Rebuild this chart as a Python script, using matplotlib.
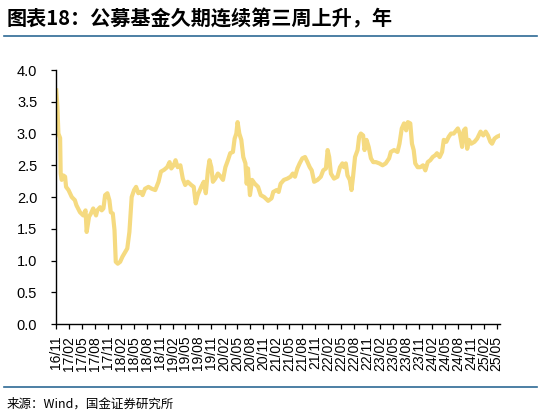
import matplotlib
matplotlib.use("Agg")
import matplotlib.pyplot as plt
import matplotlib.dates as mdates
import pandas as pd

plt.rcParams.update({"font.family": ["Liberation Sans", "Noto Sans CJK SC", "DejaVu Sans"],
                     "axes.unicode_minus": False})

TITLE = "图表18：公募基金久期连续第三周上升，年"
SOURCE = "来源：Wind，国金证券研究所"
LINE_COLOR = "#F5DA80"

# 久期（年）
dates = [
    "2016-11-03", "2016-11-11", "2016-11-18", "2016-11-30", "2016-12-04", "2016-12-11",
    "2016-12-23", "2017-01-04", "2017-01-11", "2017-01-28", "2017-02-20", "2017-03-14",
    "2017-03-25", "2017-04-19", "2017-05-12", "2017-05-28", "2017-06-05", "2017-06-22",
    "2017-07-05", "2017-07-21", "2017-08-10", "2017-08-19", "2017-09-08", "2017-09-19",
    "2017-10-01", "2017-10-13", "2017-10-29", "2017-11-12", "2017-11-22", "2017-12-06",
    "2017-12-18", "2017-12-27", "2018-01-10", "2018-01-27", "2018-02-12", "2018-03-02",
    "2018-03-18", "2018-04-02", "2018-04-18", "2018-05-05", "2018-05-19", "2018-06-04",
    "2018-06-21", "2018-07-04", "2018-07-21", "2018-08-14", "2018-09-07", "2018-10-01",
    "2018-10-24", "2018-11-10", "2018-12-03", "2018-12-24", "2019-01-10", "2019-01-22",
    "2019-02-08", "2019-02-21", "2019-03-08", "2019-03-27", "2019-04-13", "2019-04-30",
    "2019-05-18", "2019-06-11", "2019-06-29", "2019-07-13", "2019-07-27", "2019-08-21",
    "2019-09-08", "2019-09-22", "2019-10-07", "2019-10-18", "2019-10-31", "2019-11-11",
    "2019-11-28", "2019-12-16", "2020-01-05", "2020-01-21", "2020-02-07", "2020-02-25",
    "2020-03-12", "2020-03-31", "2020-04-12", "2020-04-24", "2020-05-03", "2020-05-15",
    "2020-05-29", "2020-06-12", "2020-06-27", "2020-07-06", "2020-07-15", "2020-07-29",
    "2020-08-13", "2020-09-01", "2020-09-24", "2020-10-13", "2020-11-06", "2020-12-04",
    "2020-12-28", "2021-01-09", "2021-02-02", "2021-02-16", "2021-03-02", "2021-03-25",
    "2021-04-18", "2021-05-11", "2021-05-27", "2021-06-11", "2021-06-28", "2021-07-14",
    "2021-08-02", "2021-08-21", "2021-09-07", "2021-09-23", "2021-10-07", "2021-10-24",
    "2021-11-17", "2021-12-10", "2021-12-27", "2022-01-15", "2022-01-27", "2022-02-07",
    "2022-02-19", "2022-03-13", "2022-04-06", "2022-04-24", "2022-05-11", "2022-05-22",
    "2022-06-04", "2022-06-16", "2022-07-02", "2022-07-14", "2022-07-25", "2022-08-08",
    "2022-08-26", "2022-09-06", "2022-09-18", "2022-10-04", "2022-10-14", "2022-10-28",
    "2022-11-12", "2022-11-28", "2022-12-14", "2023-01-02", "2023-01-26", "2023-02-18",
    "2023-03-12", "2023-04-05", "2023-04-17", "2023-05-10", "2023-06-03", "2023-06-17",
    "2023-07-03", "2023-07-19", "2023-08-03", "2023-08-15", "2023-09-01", "2023-09-13",
    "2023-09-25", "2023-10-06", "2023-10-23", "2023-11-11", "2023-11-30", "2023-12-16",
    "2024-01-02", "2024-01-20", "2024-02-06", "2024-02-25", "2024-03-07", "2024-03-26",
    "2024-04-12", "2024-04-24", "2024-05-12", "2024-05-29", "2024-06-14", "2024-07-03",
    "2024-07-14", "2024-08-01", "2024-08-15", "2024-08-31", "2024-09-12", "2024-09-24",
    "2024-10-06", "2024-10-18", "2024-11-03", "2024-11-26", "2024-12-15", "2025-01-08",
    "2025-01-27", "2025-02-13", "2025-03-01", "2025-03-18", "2025-03-30", "2025-04-16",
    "2025-05-04", "2025-05-24",
]
duration = [
    3.68, 3.42, 3.00, 2.93, 2.37, 2.27,
    2.34, 2.32, 2.16, 2.11, 2.00, 1.95,
    1.87, 1.76, 1.71, 1.79, 1.45, 1.69,
    1.74, 1.82, 1.71, 1.79, 1.84, 1.79,
    1.82, 2.03, 2.06, 1.95, 1.76, 1.74,
    1.48, 0.98, 0.95, 0.98, 1.06, 1.13,
    1.19, 1.45, 2.00, 2.11, 2.16, 2.06,
    2.08, 2.03, 2.13, 2.16, 2.13, 2.11,
    2.24, 2.40, 2.43, 2.47, 2.55, 2.45,
    2.50, 2.58, 2.47, 2.50, 2.29, 2.19,
    2.24, 2.19, 2.16, 1.90, 2.03, 2.16,
    2.24, 2.06, 2.42, 2.58, 2.47, 2.24,
    2.29, 2.37, 2.32, 2.27, 2.47, 2.58,
    2.69, 2.71, 2.92, 3.00, 3.18, 3.00,
    2.90, 2.63, 2.53, 2.21, 2.45, 2.03,
    2.27, 2.21, 2.16, 2.03, 2.00, 1.94,
    1.98, 2.08, 2.11, 2.08, 2.21, 2.27,
    2.29, 2.32, 2.37, 2.32, 2.45, 2.53,
    2.61, 2.63, 2.55, 2.47, 2.42, 2.24,
    2.27, 2.32, 2.42, 2.45, 2.74, 2.63,
    2.37, 2.29, 2.32, 2.47, 2.53, 2.47,
    2.53, 2.34, 2.27, 2.11, 2.32, 2.63,
    2.74, 2.95, 3.00, 2.97, 2.74, 2.90,
    2.79, 2.61, 2.55, 2.55, 2.53, 2.50,
    2.53, 2.61, 2.71, 2.74, 2.71, 2.84,
    3.08, 3.16, 3.05, 3.18, 3.16, 2.84,
    2.74, 2.53, 2.47, 2.47, 2.50, 2.42,
    2.55, 2.58, 2.63, 2.66, 2.69, 2.63,
    2.71, 2.90, 2.87, 2.95, 3.00, 3.00,
    3.03, 3.08, 3.00, 2.79, 3.05, 3.08,
    2.76, 2.90, 2.84, 2.87, 2.92, 3.03,
    2.97, 3.03, 2.97, 2.87, 2.84, 2.92,
    2.95, 2.97,
]
yticks = [0.0, 0.5, 1.0, 1.5, 2.0, 2.5, 3.0, 3.5, 4.0]

x = pd.to_datetime(dates)

fig = plt.figure(figsize=(5.41, 4.17), dpi=100)
ax = fig.add_axes([0.1035, 0.223, 0.821, 0.609])
ax.plot(x, duration, color=LINE_COLOR, lw=3.0, solid_joinstyle="round")

ax.set_ylim(0, 4.0)
ax.set_yticks(yticks)
ax.set_yticklabels([f"{v:.1f}" for v in yticks], fontsize=10.5)
ax.set_xlim(pd.Timestamp("2016-11-01"), pd.Timestamp("2025-05-26"))
ax.xaxis.set_major_locator(mdates.MonthLocator(bymonth=(2, 5, 8, 11)))
ax.xaxis.set_major_formatter(mdates.DateFormatter("%y/%m"))
plt.setp(ax.get_xticklabels(), rotation=90, fontsize=10)
ax.tick_params(axis="both", direction="out", length=3.5, width=0.9, color="black")
ax.tick_params(axis="y", pad=10)
ax.tick_params(axis="x", pad=5)
for s in ("top", "right"):
    ax.spines[s].set_visible(False)
for s in ("left", "bottom"):
    ax.spines[s].set_linewidth(1.0)
    ax.spines[s].set_color("black")

# 标题、分隔线、来源
fig.text(0.012, 0.955, TITLE, fontsize=14.5, fontweight="bold", style="italic",
         family=["Noto Sans CJK SC", "DejaVu Sans"], va="center", ha="left")
fig.add_artist(plt.Line2D([0.008, 0.992], [0.913, 0.913], color="#2E6A95", lw=1.2))
fig.add_artist(plt.Line2D([0.008, 0.992], [0.072, 0.072], color="#2E6A95", lw=1.2))
fig.text(0.012, 0.030, SOURCE, fontsize=9, family=["Noto Sans CJK SC", "DejaVu Sans"],
         va="center", ha="left")

fig.savefig("out.png", dpi=100)
